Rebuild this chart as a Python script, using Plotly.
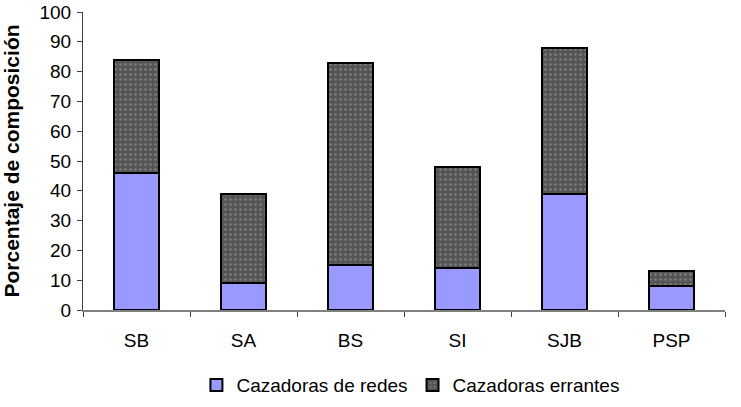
import plotly.graph_objects as go

categories = ["SB", "SA", "BS", "SI", "SJB", "PSP"]
redes = [46, 9, 15, 14, 39, 8]
errantes = [38, 30, 68, 34, 49, 5]
y_ticks = list(range(0, 101, 10))

fig = go.Figure()
fig.add_trace(go.Bar(
    x=categories, y=redes, name="Cazadoras de redes",
    marker=dict(color="#9999FF", line=dict(color="black", width=2)),
))
fig.add_trace(go.Bar(
    x=categories, y=errantes, name="Cazadoras errantes",
    marker=dict(color="#555555", line=dict(color="black", width=2),
                pattern=dict(shape=".", fillmode="overlay", fgcolor="#A8A8A8",
                             size=5, solidity=0.2)),
))

fig.update_layout(
    barmode="stack",
    bargap=0.58,
    width=741, height=407,
    margin=dict(l=83, r=16, t=12, b=97, autoexpand=False),
    paper_bgcolor="white", plot_bgcolor="white",
    font=dict(family="Liberation Sans, Arial, sans-serif", size=19, color="black"),
    showlegend=True,
    legend=dict(orientation="h", x=0.51, xanchor="center", y=-0.252, yanchor="middle",
                font=dict(size=19), itemwidth=30, traceorder="normal"),
    xaxis=dict(showline=True, linecolor="#808080", linewidth=2, automargin=False,
               ticks="outside", tickson="boundaries", ticklen=5, tickcolor="#404040",
               tickfont=dict(size=19), showgrid=False, ticklabelstandoff=12),
    yaxis=dict(range=[0, 100], tickvals=y_ticks, showline=True, linecolor="#404040",
               linewidth=1, ticks="outside", ticklen=5, tickcolor="#404040",
               showgrid=False, zeroline=False, tickfont=dict(size=19), automargin=False,
               ticklabelstandoff=2,
               title=dict(text="<b>Porcentaje de composición</b>", font=dict(size=21), standoff=18)),
)

fig.write_html("out.html", config={"displayModeBar": False},
               post_script="document.body.style.margin='0px';")
